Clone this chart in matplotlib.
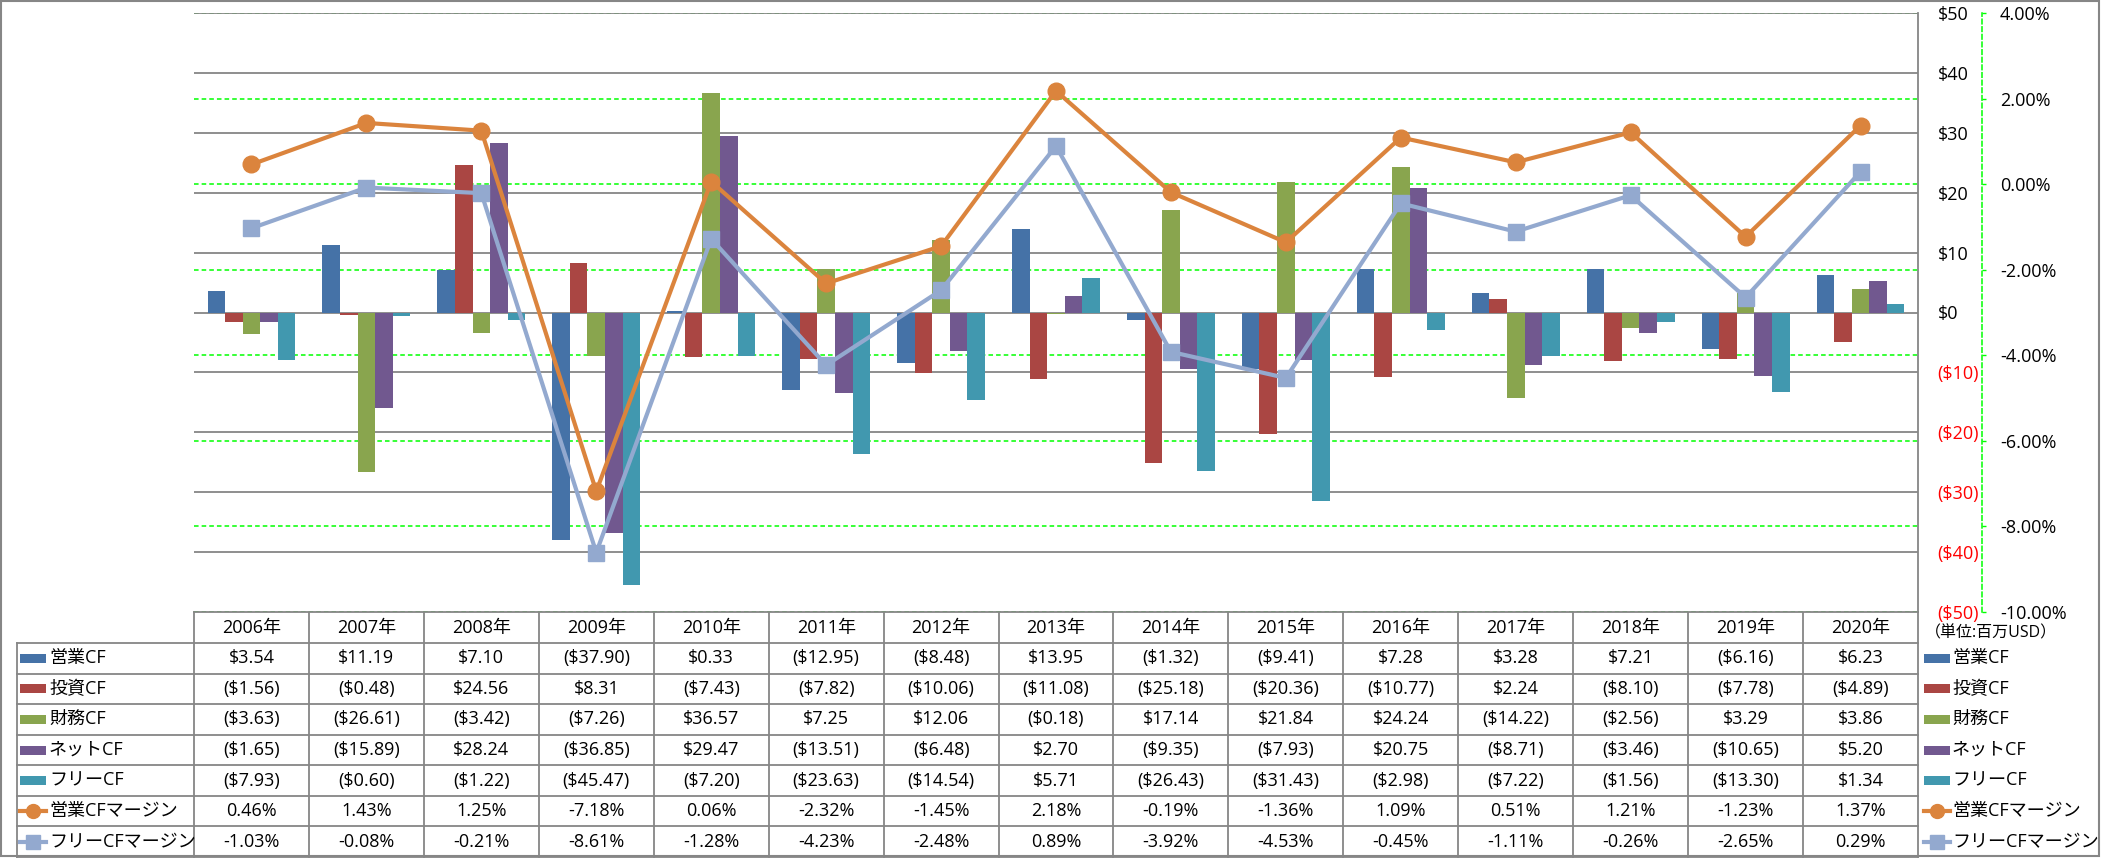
import matplotlib
matplotlib.use("Agg")
import matplotlib.pyplot as plt
from matplotlib.lines import Line2D
from matplotlib.patches import Rectangle

plt.rcParams['font.family'] = ['Open Sans', 'Noto Sans CJK JP', 'DejaVu Sans']

years = ["2006年", "2007年", "2008年", "2009年", "2010年", "2011年", "2012年", "2013年",
         "2014年", "2015年", "2016年", "2017年", "2018年", "2019年", "2020年"]

op_cf = [3.54, 11.19, 7.10, -37.90, 0.33, -12.95, -8.48, 13.95, -1.32, -9.41, 7.28, 3.28, 7.21, -6.16, 6.23]
inv_cf = [-1.56, -0.48, 24.56, 8.31, -7.43, -7.82, -10.06, -11.08, -25.18, -20.36, -10.77, 2.24, -8.10, -7.78, -4.89]
fin_cf = [-3.63, -26.61, -3.42, -7.26, 36.57, 7.25, 12.06, -0.18, 17.14, 21.84, 24.24, -14.22, -2.56, 3.29, 3.86]
net_cf = [-1.65, -15.89, 28.24, -36.85, 29.47, -13.51, -6.48, 2.70, -9.35, -7.93, 20.75, -8.71, -3.46, -10.65, 5.20]
free_cf = [-7.93, -0.60, -1.22, -45.47, -7.20, -23.63, -14.54, 5.71, -26.43, -31.43, -2.98, -7.22, -1.56, -13.30, 1.34]
op_margin = [0.46, 1.43, 1.25, -7.18, 0.06, -2.32, -1.45, 2.18, -0.19, -1.36, 1.09, 0.51, 1.21, -1.23, 1.37]
free_margin = [-1.03, -0.08, -0.21, -8.61, -1.28, -4.23, -2.48, 0.89, -3.92, -4.53, -0.45, -1.11, -0.26, -2.65, 0.29]

bar_names = ["営業CF", "投資CF", "財務CF", "ネットCF", "フリーCF"]
bar_series = [op_cf, inv_cf, fin_cf, net_cf, free_cf]
bar_colors = ["#4572A7", "#AA4643", "#89A54E", "#71588F", "#4198AF"]
line_names = ["営業CFマージン", "フリーCFマージン"]
line_series = [op_margin, free_margin]
line_colors = ["#DB843D", "#93A9CF"]
line_markers = ["o", "s"]

W, H = 2101, 858
fig = plt.figure(figsize=(W / 100, H / 100), dpi=100)

# plot area in pixels
PL, PR, PT, PB = 194, 1918, 13, 612
rect = [PL / W, 1 - PB / H, (PR - PL) / W, (PB - PT) / H]

grid_gray = "#868686"
FS = 13

# secondary axis (green grid + % labels), drawn at the back
ax_pct = fig.add_axes(rect, zorder=1)
ax = fig.add_axes(rect, zorder=2, sharex=ax_pct)
ax_ln = fig.add_axes(rect, zorder=3, sharex=ax_pct, sharey=ax_pct)
for a in (ax, ax_ln):
    a.patch.set_visible(False)

n = len(years)
xs = list(range(n))
bw = 0.153
for k, (vals, col) in enumerate(zip(bar_series, bar_colors)):
    ax.bar([x + (k - 2) * bw for x in xs], vals, width=bw, color=col, linewidth=0)

ax.set_xlim(-0.5, n - 0.5)
ax.set_ylim(-50, 50)
ax.set_yticks(range(-50, 51, 10))
ax.yaxis.tick_right()
ax.set_yticklabels([f"${v}" if v >= 0 else f"(${-v})" for v in range(-50, 51, 10)])
for lab, v in zip(ax.get_yticklabels(), range(-50, 51, 10)):
    lab.set_color("black" if v >= 0 else "red")
ax.tick_params(axis="y", length=0, pad=14, labelsize=FS)
ax.tick_params(axis="x", bottom=False, labelbottom=False)
ax.grid(axis="y", color=grid_gray, linewidth=1.3)
ax.set_axisbelow(True)
for s in ("left", "top", "bottom"):
    ax.spines[s].set_visible(False)
ax.spines["right"].set_color(grid_gray)
ax.spines["right"].set_linewidth(1.3)

pct_ticks = list(range(-10, 5, 2))
ax_pct.set_ylim(-10, 4)
ax_pct.set_yticks(pct_ticks)
ax_pct.yaxis.tick_right()
ax_pct.set_yticklabels([f"{v:.2f}%" for v in pct_ticks])
for lab, v in zip(ax_pct.get_yticklabels(), pct_ticks):
    lab.set_color("black" if v >= 0 else "red")
ax_pct.tick_params(axis="y", length=3, width=1, color="#00FF00", pad=10, labelsize=FS)
ax_pct.tick_params(axis="x", bottom=False, labelbottom=False)
ax_pct.grid(axis="y", color="#00FF00", linestyle=(0, (3, 2)), linewidth=1.1)
for s in ("left", "top", "bottom"):
    ax_pct.spines[s].set_visible(False)
ax_pct.spines["right"].set_position(("outward", 46))
ax_pct.spines["right"].set_color("#00FF00")
ax_pct.spines["right"].set_linestyle((0, (3, 2)))
ax_pct.spines["right"].set_linewidth(1.1)

for vals, col, mk in zip(line_series, line_colors, line_markers):
    ax_ln.plot(xs, vals, color=col, linewidth=3, marker=mk, markersize=12,
               markerfacecolor=col, markeredgecolor=col)
ax_ln.axis("off")

# data table below the plot, drawn in pixel coordinates
tab = fig.add_axes([0, 0, 1, 1], zorder=0)
tab.set_xlim(0, W)
tab.set_ylim(H, 0)
tab.axis("off")

colw = (PR - PL) / n
LX = 17
hdr_bot = 643
row_h = (857 - hdr_bot) / 7
lc = grid_gray
lw = 1.3

tab.plot([PL, PR], [PB, PB], color=lc, lw=lw)
for r in range(8):
    y = hdr_bot + r * row_h
    tab.plot([LX, PR], [y, y], color=lc, lw=lw)
for c in range(n + 1):
    x = PL + c * colw
    tab.plot([x, x], [PB, 857], color=lc, lw=lw)
tab.plot([LX, LX], [hdr_bot, 857], color=lc, lw=lw)

for c, yr in enumerate(years):
    tab.text(PL + (c + 0.5) * colw, (PB + hdr_bot) / 2, yr, ha="center", va="center", fontsize=FS)


def fmt_usd(v):
    return f"${v:.2f}" if v >= 0 else f"(${-v:.2f})"


rows = [(name, vals, fmt_usd) for name, vals in zip(bar_names, bar_series)]
rows += [(name, vals, lambda v: f"{v:.2f}%") for name, vals in zip(line_names, line_series)]

for r, (name, vals, fmt) in enumerate(rows):
    yc = hdr_bot + (r + 0.5) * row_h
    for c, v in enumerate(vals):
        tab.text(PL + (c + 0.5) * colw, yc, fmt(v), ha="center", va="center", fontsize=FS)
    # legend keys, left in the table and right of it
    for sx, tx in ((20, 49), (1924, 1952)):
        if r < 5:
            tab.add_patch(Rectangle((sx, yc - 4.5), 26, 9, color=bar_colors[r], lw=0))
        else:
            col = line_colors[r - 5]
            tab.add_line(Line2D([sx, sx + 26], [yc, yc], color=col, lw=3))
            tab.add_line(Line2D([sx + 13], [yc], color=col, marker=line_markers[r - 5],
                                markersize=10))
        tab.text(tx, yc, name, ha="left", va="center", fontsize=FS)

tab.text(1925, 633, "（単位:百万USD）", ha="left", va="center", fontsize=11.5)

# outer chart border
tab.add_patch(Rectangle((1, 1), W - 3, H - 3, fill=False, edgecolor=grid_gray, lw=1.5))

fig.savefig("out.png", dpi=100)
